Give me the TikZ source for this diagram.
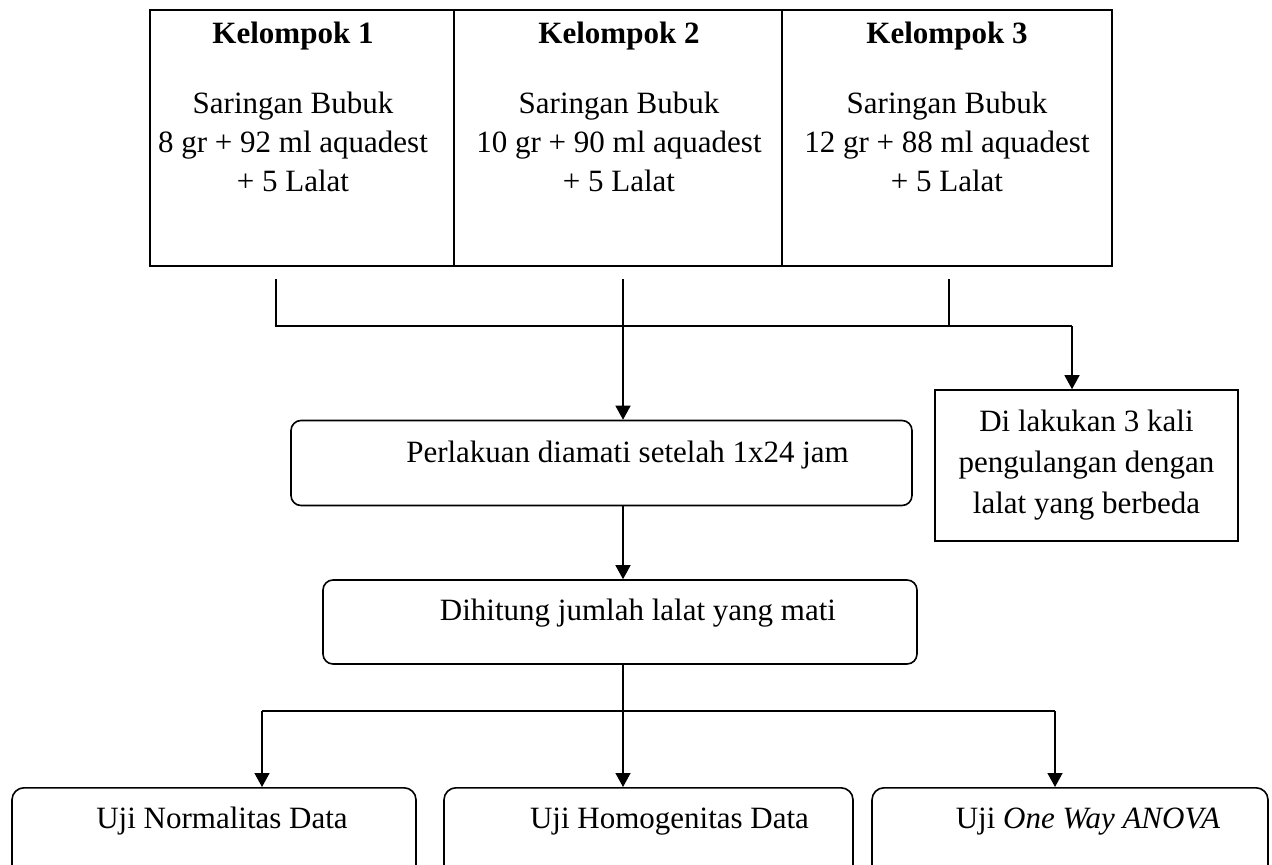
\documentclass[tikz,border=0pt]{standalone}
\usepackage{fontspec}
\setmainfont{Liberation Serif}
\usetikzlibrary{arrows.meta, positioning}

\tikzset{
  sel/.style={draw, rectangle, line width=0.8pt, minimum height=128pt, inner sep=0pt, outer sep=0pt},
  isi/.style={anchor=north, align=center, inner sep=0pt},
  proses/.style={draw, rounded corners=5pt, line width=0.8pt, inner sep=0pt, text height=8pt, text depth=9pt},
  ulang/.style={draw, rectangle, line width=0.8pt, align=center, inner sep=0pt, minimum width=151.5pt, minimum height=75.5pt, font=\fontsize{15.5}{20.5}\selectfont},
  uji/.style={draw, rounded corners=6pt, line width=0.8pt, anchor=north, inner sep=0pt, minimum height=59pt, text height=5pt, text depth=23pt}
}

\begin{document}
\begin{tikzpicture}[x=0.5pt, y=-0.5pt, >={Triangle[width=7.5pt,length=7pt]}, line width=0.7pt, every node/.style={font=\fontsize{15.5}{19.5}\selectfont}]
\clip (0,0) rectangle (1272,865);
% tiga kelompok
\node[sel, minimum width=152pt] (k1) at (302,138) {};
\node[sel, minimum width=164pt, right=0pt of k1] (k2) {};
\node[sel, minimum width=165pt, right=0pt of k2] (k3) {};
\node[isi] (t1) at (293,21) {\textbf{Kelompok 1}\\[15.5pt]Saringan Bubuk\\8 gr + 92 ml aquadest\\+ 5 Lalat};
\node[isi] (t2) at (619,21) {\textbf{Kelompok 2}\\[15.5pt]Saringan Bubuk\\10 gr + 90 ml aquadest\\+ 5 Lalat};
\node[isi] (t3) at (947,21) {\textbf{Kelompok 3}\\[15.5pt]Saringan Bubuk\\12 gr + 88 ml aquadest\\+ 5 Lalat};
% proses
\node[proses, minimum width=310.5pt, minimum height=42.5pt] (perlakuan) at (601.5,463) {\hspace*{26pt}Perlakuan diamati setelah 1x24 jam};
\node[ulang] (ulang) at (1086.5,465.5) {Di lakukan 3 kali\\pengulangan dengan\\lalat yang berbeda};
\node[proses, minimum width=297pt, minimum height=42pt, text depth=10pt] (dihitung) at (620,622) {\hspace*{18pt}Dihitung jumlah lalat yang mati};
% uji statistik
\node[uji, minimum width=202pt] (uji1) at (214,787) {\hspace*{8pt}Uji Normalitas Data};
\node[uji, minimum width=204.5pt] (uji2) at (648.5,787) {\hspace*{21pt}Uji Homogenitas Data};
\node[uji, minimum width=198pt] (uji3) at (1070,787) {\hspace*{18pt}Uji \textit{One Way ANOVA}};
% garis
\coordinate (a1) at (276,279);
\coordinate (a2) at (623,279);
\coordinate (a3) at (949,279);
\coordinate (cabang) at (1072,326);
\coordinate (b1) at (262,711);
\coordinate (b3) at (1055,711);
\draw (a1) |- (cabang);
\draw (a3) -- (a3 |- cabang);
\draw[->] (cabang) -- (cabang |- ulang.north);
\draw[->] (a2) -- (a2 |- perlakuan.north);
\draw[->] (a2 |- perlakuan.south) -- (a2 |- dihitung.north);
\draw[->] (a2 |- dihitung.south) -- (a2 |- uji2.north);
\draw (b1) -- (b3);
\draw[->] (b1) -- (b1 |- uji1.north);
\draw[->] (b3) -- (b3 |- uji3.north);
\end{tikzpicture}
\end{document}
